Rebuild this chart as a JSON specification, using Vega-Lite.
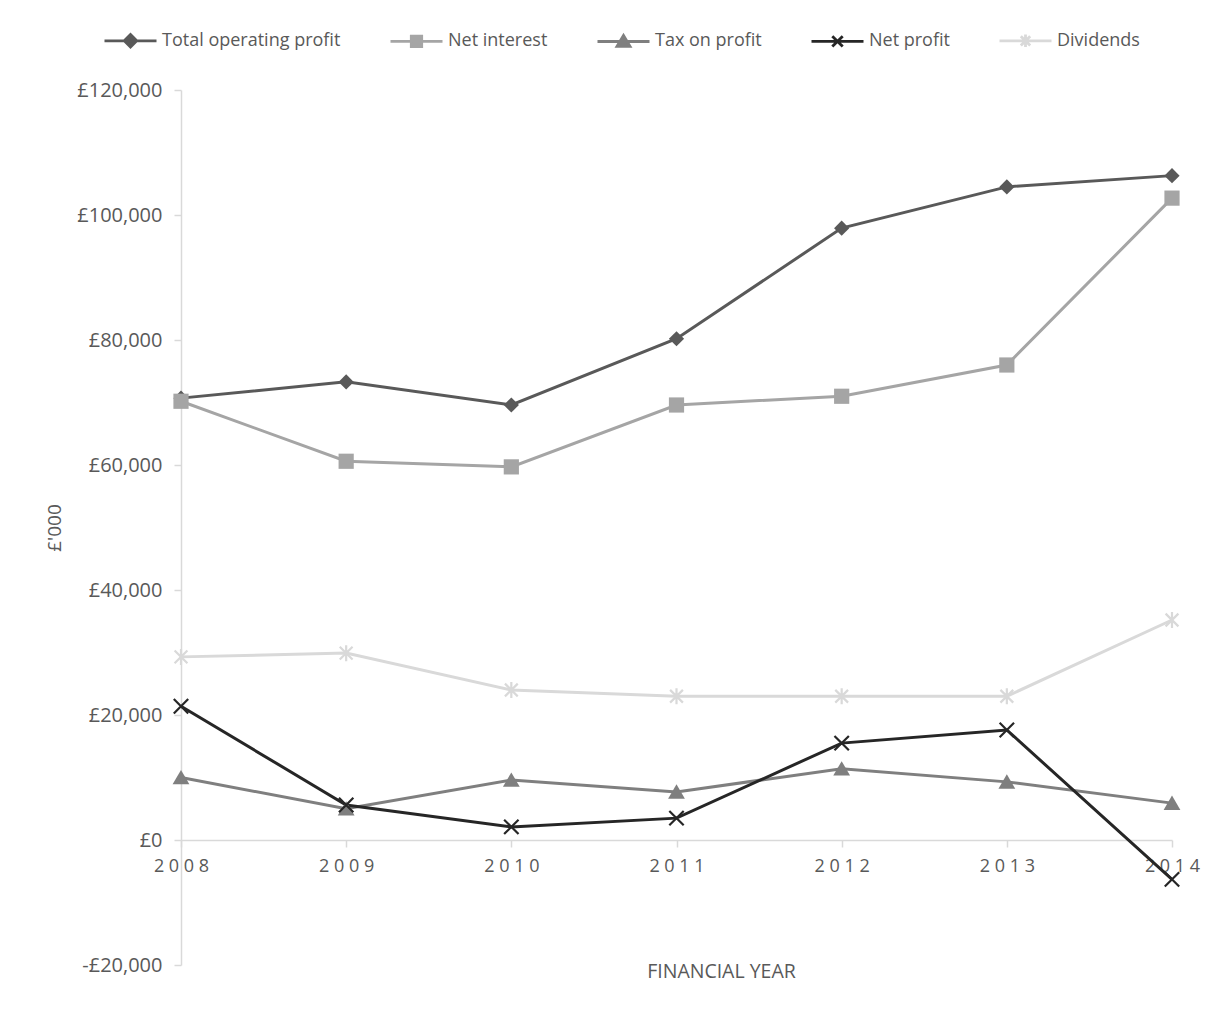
{
  "$schema": "https://vega.github.io/schema/vega-lite/v6.json",
  "width": 991,
  "height": 875,
  "autosize": {"type": "none"},
  "padding": {"left": 181, "top": 90, "right": 52, "bottom": 59},
  "background": "white",
  "config": {
    "view": {"stroke": null},
    "font": "Open Sans",
    "axis": {"grid": false, "labelFont": "Open Sans", "titleFont": "Open Sans", "labelColor": "#595959", "titleColor": "#595959", "domainColor": "#D9D9D9", "tickColor": "#D9D9D9", "domainWidth": 1.5, "tickWidth": 1.5}
  },
  "data": {"values": [
    {"year": 2008, "series": "Total operating profit", "value": 70700},
    {"year": 2009, "series": "Total operating profit", "value": 73300},
    {"year": 2010, "series": "Total operating profit", "value": 69600},
    {"year": 2011, "series": "Total operating profit", "value": 80200},
    {"year": 2012, "series": "Total operating profit", "value": 97900},
    {"year": 2013, "series": "Total operating profit", "value": 104500},
    {"year": 2014, "series": "Total operating profit", "value": 106300},
    {"year": 2008, "series": "Net interest", "value": 70200},
    {"year": 2009, "series": "Net interest", "value": 60600},
    {"year": 2010, "series": "Net interest", "value": 59700},
    {"year": 2011, "series": "Net interest", "value": 69600},
    {"year": 2012, "series": "Net interest", "value": 71000},
    {"year": 2013, "series": "Net interest", "value": 76000},
    {"year": 2014, "series": "Net interest", "value": 102700},
    {"year": 2008, "series": "Tax on profit", "value": 10000},
    {"year": 2009, "series": "Tax on profit", "value": 5000},
    {"year": 2010, "series": "Tax on profit", "value": 9600},
    {"year": 2011, "series": "Tax on profit", "value": 7700},
    {"year": 2012, "series": "Tax on profit", "value": 11400},
    {"year": 2013, "series": "Tax on profit", "value": 9300},
    {"year": 2014, "series": "Tax on profit", "value": 5900},
    {"year": 2008, "series": "Net profit", "value": 21400},
    {"year": 2009, "series": "Net profit", "value": 5600},
    {"year": 2010, "series": "Net profit", "value": 2100},
    {"year": 2011, "series": "Net profit", "value": 3500},
    {"year": 2012, "series": "Net profit", "value": 15500},
    {"year": 2013, "series": "Net profit", "value": 17600},
    {"year": 2014, "series": "Net profit", "value": -6300},
    {"year": 2008, "series": "Dividends", "value": 29300},
    {"year": 2009, "series": "Dividends", "value": 29900},
    {"year": 2010, "series": "Dividends", "value": 24000},
    {"year": 2011, "series": "Dividends", "value": 23000},
    {"year": 2012, "series": "Dividends", "value": 23000},
    {"year": 2013, "series": "Dividends", "value": 23000},
    {"year": 2014, "series": "Dividends", "value": 35200}
  ]},
  "encoding": {
    "x": {"field": "year", "type": "quantitative",
      "scale": {"domain": [2008, 2014], "nice": false, "zero": false},
      "axis": {"values": [2008, 2009, 2010, 2011, 2012, 2013, 2014], "labelExpr": "join(split(datum.label, ''), ' ')", "format": "d",
        "offset": -125, "tickSize": 7, "labelPadding": 10, "labelFontSize": 18, "title": "FINANCIAL YEAR", "titleFontSize": 19.5, "titleFontWeight": "normal",
        "titleX": 540, "titleY": 131, "titleBaseline": "middle", "labelFlush": false}},
    "y": {"field": "value", "type": "quantitative",
      "scale": {"domain": [-20000, 120000], "nice": false},
      "axis": {"values": [-20000, 0, 20000, 40000, 60000, 80000, 100000, 120000],
        "labelExpr": "(datum.value < 0 ? '-' : '') + '£' + format(abs(datum.value), ',')",
        "tickSize": 7, "labelPadding": 12, "labelFontSize": 20, "title": "£'000", "titleFontSize": 19, "titleFontWeight": "normal", "titlePadding": 12}},
    "color": {"field": "series", "type": "nominal",
      "scale": {"domain": ["Total operating profit", "Net interest", "Tax on profit", "Net profit", "Dividends"],
        "range": ["#595959", "#A5A5A5", "#7F7F7F", "#262626", "#D9D9D9"]},
      "legend": {"title": null, "orient": "none", "direction": "horizontal", "legendX": -78, "legendY": -77,
        "labelFontSize": 18, "labelColor": "#595959", "labelFont": "Open Sans", "labelLimit": 400, "symbolSize": 2704, "columnPadding": 43, "labelOffset": 4, "symbolStrokeWidth": 2.5,
        "encode": {"symbols": {"update": {
          "shape": {"signal": "datum.value === 'Total operating profit' ? 'M-1,0H1M0,-0.24L0.24,0L0,0.24L-0.24,0Z' : datum.value === 'Net interest' ? 'M-1,0H1M-0.2,-0.2H0.2V0.2H-0.2Z' : datum.value === 'Tax on profit' ? 'M-1,0H1M0,-0.23L0.25,0.19H-0.25Z' : datum.value === 'Net profit' ? 'M-1,0H1M-0.2,-0.2L0.2,0.2M-0.2,0.2L0.2,-0.2' : 'M-1,0H1M-0.18,-0.18L0.18,0.18M-0.18,0.18L0.18,-0.18M0,-0.24V0.24'"},
          "fill": {"signal": "scale('color', datum.value)"},
          "stroke": {"signal": "scale('color', datum.value)"},
          "strokeWidth": {"value": 2.8},
          "opacity": {"value": 1}
        }}}}
    }
  },
  "layer": [
    {"mark": {"type": "line", "strokeWidth": 3}},
    {"transform": [{"filter": "datum.series === 'Total operating profit'"}],
      "mark": {"type": "point", "filled": true, "size": 256, "opacity": 1, "shape": "M0,-0.95L0.95,0L0,0.95L-0.95,0Z"}},
    {"transform": [{"filter": "datum.series === 'Net interest'"}],
      "mark": {"type": "point", "filled": true, "size": 256, "opacity": 1, "shape": "M-0.95,-0.95H0.95V0.95H-0.95Z"}},
    {"transform": [{"filter": "datum.series === 'Tax on profit'"}],
      "mark": {"type": "point", "filled": true, "size": 256, "opacity": 1, "shape": "M0,-0.95L1.05,0.85H-1.05Z"}},
    {"transform": [{"filter": "datum.series === 'Net profit'"}],
      "mark": {"type": "point", "filled": false, "size": 256, "strokeWidth": 2.2, "opacity": 1, "shape": "M-0.9,-0.9L0.9,0.9M-0.9,0.9L0.9,-0.9"}},
    {"transform": [{"filter": "datum.series === 'Dividends'"}],
      "mark": {"type": "point", "filled": false, "size": 256, "strokeWidth": 2.2, "opacity": 1, "shape": "M-0.8,-0.8L0.8,0.8M-0.8,0.8L0.8,-0.8M0,-1V1"}}
  ]
}
